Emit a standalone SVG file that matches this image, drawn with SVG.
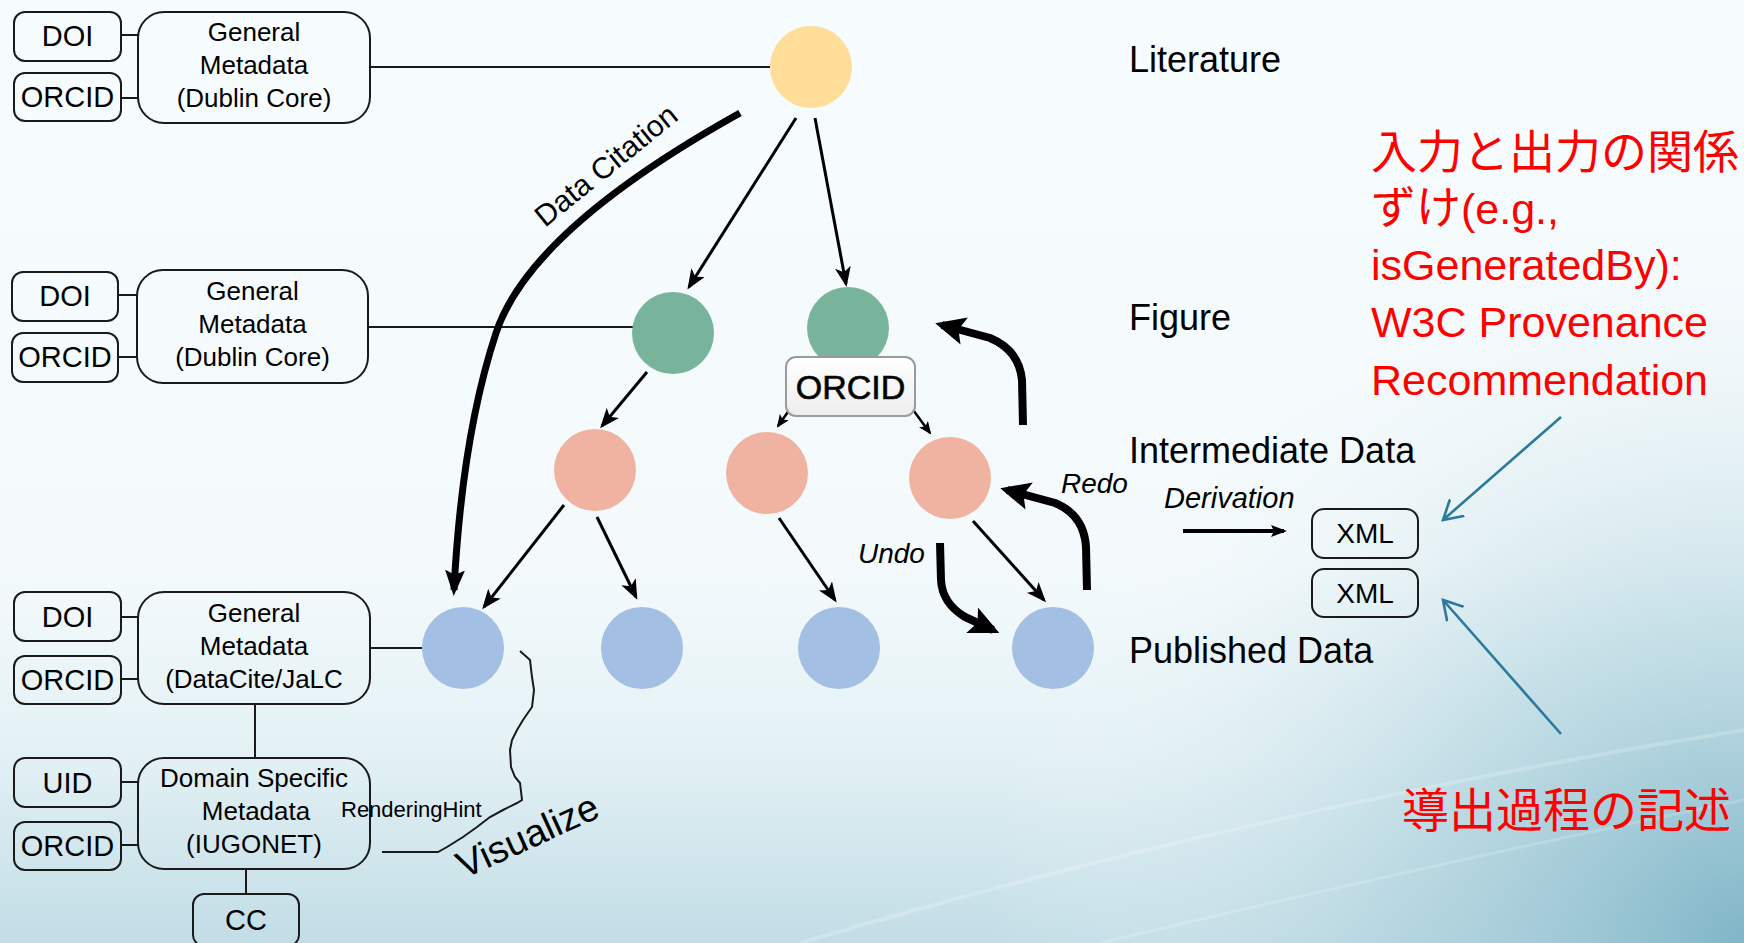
<svg xmlns="http://www.w3.org/2000/svg" width="1744" height="943" viewBox="0 0 1744 943">
<defs>
<linearGradient id="bgGrad" x1="0" y1="0" x2="0" y2="1">
<stop offset="0" stop-color="#f7fcfe"/>
<stop offset="0.6" stop-color="#f4fafc"/>
<stop offset="0.8" stop-color="#e3f1f5"/>
<stop offset="1" stop-color="#c2dde6"/>
</linearGradient>
<radialGradient id="cornerGrad" cx="1744" cy="943" r="760" gradientUnits="userSpaceOnUse">
<stop offset="0" stop-color="#7db4c6" stop-opacity="0.95"/>
<stop offset="0.45" stop-color="#a6cdd9" stop-opacity="0.5"/>
<stop offset="1" stop-color="#ffffff" stop-opacity="0"/>
</radialGradient>
<linearGradient id="badgeGrad" x1="0" y1="0" x2="0" y2="1">
<stop offset="0" stop-color="#ffffff"/>
<stop offset="1" stop-color="#eeeeee"/>
</linearGradient>
<marker id="ah" markerUnits="userSpaceOnUse" markerWidth="20" markerHeight="16" viewBox="0 0 20 16" refX="17" refY="8" orient="auto"><path d="M0,0 L20,8 L0,16 L5,8 z" fill="#000"/></marker>
<marker id="ahs" markerUnits="userSpaceOnUse" markerWidth="13" markerHeight="11" viewBox="0 0 13 11" refX="11" refY="5.5" orient="auto"><path d="M0,0 L13,5.5 L0,11 L3,5.5 z" fill="#000"/></marker>
<marker id="ahCite" markerUnits="userSpaceOnUse" markerWidth="26" markerHeight="20" viewBox="0 0 26 20" refX="20" refY="10" orient="auto"><path d="M0,0 L26,10 L0,20 L5,10 z" fill="#000"/></marker>
<marker id="ahThick" markerUnits="userSpaceOnUse" markerWidth="30" markerHeight="28" viewBox="0 0 30 28" refX="23" refY="14" orient="auto"><path d="M0,0 L30,14 L0,28 L6,14 z" fill="#000"/></marker>
<marker id="ahDer" markerUnits="userSpaceOnUse" markerWidth="16" markerHeight="12" viewBox="0 0 16 12" refX="13" refY="6" orient="auto"><path d="M0,0 L16,6 L0,12 L3,6 z" fill="#000"/></marker>
<marker id="ahOpen" markerUnits="userSpaceOnUse" markerWidth="22" markerHeight="24" viewBox="0 0 22 24" refX="19" refY="12" orient="auto"><path d="M1,1.5 L19,12 L1,22.5" fill="none" stroke="#2b7a9c" stroke-width="2.6" stroke-linecap="round" stroke-linejoin="miter"/></marker>
<style>
.box{fill:none;stroke:#1a1a1a;stroke-width:2}
.ln{fill:none;stroke:#1a1a1a;stroke-width:2}
.arr{fill:none;stroke:#000;stroke-width:3;marker-end:url(#ah)}
.arrs{fill:none;stroke:#000;stroke-width:2.5;marker-end:url(#ahs)}
.thick{fill:none;stroke:#000;stroke-width:8;marker-end:url(#ahThick)}
.blue{fill:none;stroke:#2b7a9c;stroke-width:2.6;marker-end:url(#ahOpen)}
.t{font-family:"Liberation Sans",Arial,sans-serif;fill:#000}
.tm{font-size:26px;text-anchor:middle}
.tid{font-size:29px;text-anchor:middle}
.lvl{font-size:36px}
.it{font-style:italic}
.red{font-family:"Liberation Sans","Noto Sans CJK JP",sans-serif;fill:#ff0000}
.yel{fill:#ffde99}
.grn{fill:#78b49c}
.pnk{fill:#f1b3a1}
.blu{fill:#a3bfe3}
</style>
</defs>

<g id="background">
<rect x="0" y="0" width="1744" height="943" fill="url(#bgGrad)"/>
<rect x="0" y="0" width="1744" height="943" fill="url(#cornerGrad)"/>
<path d="M800,943 Q1250,810 1744,730" fill="none" stroke="#ffffff" stroke-opacity="0.2" stroke-width="4"/>
<path d="M1100,943 Q1450,860 1744,800" fill="none" stroke="#ffffff" stroke-opacity="0.18" stroke-width="3"/>
</g>

<g id="connectors">
<line class="ln" x1="121" y1="35" x2="138" y2="35"/>
<line class="ln" x1="121" y1="98" x2="138" y2="98"/>
<line class="ln" x1="370" y1="67" x2="770" y2="67"/>
<line class="ln" x1="118" y1="295" x2="137" y2="295"/>
<line class="ln" x1="118" y1="357" x2="137" y2="357"/>
<line class="ln" x1="368" y1="327" x2="633" y2="327"/>
<line class="ln" x1="121" y1="617" x2="138" y2="617"/>
<line class="ln" x1="121" y1="679" x2="138" y2="679"/>
<line class="ln" x1="370" y1="648" x2="422" y2="648"/>
<line class="ln" x1="255" y1="704" x2="255" y2="758"/>
<line class="ln" x1="121" y1="782" x2="138" y2="782"/>
<line class="ln" x1="121" y1="845" x2="138" y2="845"/>
<line class="ln" x1="246" y1="869" x2="246" y2="894"/>
<path class="ln" d="M520,651 L530,660 L532,677 L534,690 L532,707 L523,720 L517,730 L512,740 L510,750 L511,767 L515,777 L520,783 L522,800 L517,803 L503,810 L490,817 L477,827 L463,837 L447,847 L438,852 L382,852" stroke-width="1.8"/>
<path d="M740,113 Q530,230 496,333 T454,590" fill="none" stroke="#000" stroke-width="7" marker-end="url(#ahCite)"/>
<line class="arr" x1="796" y1="118" x2="689" y2="287"/>
<line class="arr" x1="815" y1="118" x2="846" y2="284"/>
<line class="arr" x1="647" y1="372" x2="602" y2="426"/>
<line class="arr" x1="564" y1="505" x2="484" y2="607"/>
<line class="arr" x1="597" y1="517" x2="636" y2="597"/>
<line class="arrs" x1="802" y1="392" x2="778" y2="426"/>
<line class="arrs" x1="900" y1="392" x2="930" y2="433"/>
<line class="arr" x1="779" y1="518" x2="835" y2="600"/>
<line class="arr" x1="973" y1="521" x2="1044" y2="600"/>
<path class="thick" d="M940,543 L941,580 Q942,603 965,617 L993,630"/>
<path class="thick" d="M1087,590 L1086,547 Q1084,515 1055,503 L1007,490"/>
<path class="thick" d="M1023,425 L1022,380 Q1019,350 990,338 L942,325"/>
<line x1="1183" y1="531" x2="1284" y2="531" stroke="#000" stroke-width="4" marker-end="url(#ahDer)"/>
<line class="blue" x1="1561" y1="417" x2="1443" y2="520"/>
<line class="blue" x1="1561" y1="734" x2="1443" y2="600"/>
</g>

<g id="meta-literature">
<rect class="box" x="14" y="12" width="107" height="49" rx="11"/>
<text class="t tid" x="67.5" y="46">DOI</text>
<rect class="box" x="14" y="73" width="107" height="48" rx="11"/>
<text class="t tid" x="67.5" y="107">ORCID</text>
<rect class="box" x="138" y="12" width="232" height="111" rx="26"/>
<text class="t tm" x="254" y="41">General</text>
<text class="t tm" x="254" y="74">Metadata</text>
<text class="t tm" x="254" y="107">(Dublin Core)</text>
</g>

<g id="meta-figure">
<rect class="box" x="12" y="272" width="106" height="49" rx="11"/>
<text class="t tid" x="65" y="306">DOI</text>
<rect class="box" x="12" y="333" width="106" height="49" rx="11"/>
<text class="t tid" x="65" y="367">ORCID</text>
<rect class="box" x="137" y="270" width="231" height="113" rx="26"/>
<text class="t tm" x="252.5" y="300">General</text>
<text class="t tm" x="252.5" y="333">Metadata</text>
<text class="t tm" x="252.5" y="366">(Dublin Core)</text>
</g>

<g id="meta-published">
<rect class="box" x="14" y="592" width="107" height="49" rx="11"/>
<text class="t tid" x="67.5" y="627">DOI</text>
<rect class="box" x="14" y="656" width="107" height="48" rx="11"/>
<text class="t tid" x="67.5" y="690">ORCID</text>
<rect class="box" x="138" y="592" width="232" height="112" rx="26"/>
<text class="t tm" x="254" y="622">General</text>
<text class="t tm" x="254" y="655">Metadata</text>
<text class="t tm" x="254" y="688">(DataCite/JaLC</text>
</g>

<g id="meta-domain">
<rect class="box" x="14" y="758" width="107" height="49" rx="11"/>
<text class="t tid" x="67.5" y="793">UID</text>
<rect class="box" x="14" y="822" width="107" height="48" rx="11"/>
<text class="t tid" x="67.5" y="856">ORCID</text>
<rect class="box" x="138" y="758" width="232" height="111" rx="26"/>
<text class="t tm" x="254" y="787">Domain Specific</text>
<text class="t tm" x="256" y="820">Metadata</text>
<text class="t tm" x="254" y="853">(IUGONET)</text>
<rect class="box" x="193" y="894" width="106" height="52" rx="11"/>
<text class="t tid" x="246" y="930">CC</text>
</g>

<g id="node-literature"><circle class="yel" cx="811" cy="67" r="41"/></g>
<g id="node-figure-1"><circle class="grn" cx="673" cy="333" r="41"/></g>
<g id="node-figure-2"><circle class="grn" cx="848" cy="328" r="41"/></g>
<g id="node-inter-1"><circle class="pnk" cx="595" cy="470" r="41"/></g>
<g id="node-inter-2"><circle class="pnk" cx="767" cy="473" r="41"/></g>
<g id="node-inter-3"><circle class="pnk" cx="950" cy="478" r="41"/></g>
<g id="node-pub-1"><circle class="blu" cx="463" cy="648" r="41"/></g>
<g id="node-pub-2"><circle class="blu" cx="642" cy="648" r="41"/></g>
<g id="node-pub-3"><circle class="blu" cx="839" cy="648" r="41"/></g>
<g id="node-pub-4"><circle class="blu" cx="1053" cy="648" r="41"/></g>

<g id="orcid-badge">
<rect x="786" y="357" width="129" height="59" rx="10" fill="url(#badgeGrad)" stroke="#9a9a9a" stroke-width="2"/>
<text class="t" x="850.5" y="399" font-size="34" text-anchor="middle" fill="#111" stroke="#111" stroke-width="0.7">ORCID</text>
</g>

<g id="xml-boxes">
<rect class="box" x="1312" y="509" width="106" height="49" rx="12"/>
<text class="t" x="1365" y="543" font-size="28" text-anchor="middle">XML</text>
<rect class="box" x="1312" y="569" width="106" height="48" rx="12"/>
<text class="t" x="1365" y="603" font-size="28" text-anchor="middle">XML</text>
</g>

<g id="labels">
<text class="t lvl" x="1129" y="72">Literature</text>
<text class="t lvl" x="1129" y="330">Figure</text>
<text class="t lvl" x="1129" y="463">Intermediate Data</text>
<text class="t lvl" x="1129" y="663">Published Data</text>
<text class="t it" x="1061" y="493" font-size="28">Redo</text>
<text class="t it" x="858" y="563" font-size="28">Undo</text>
<text class="t it" x="1164" y="508" font-size="29">Derivation</text>
<text class="t" transform="translate(545,228) rotate(-39)" font-size="30">Data Citation</text>
<text class="t" transform="translate(464,879) rotate(-24.5)" font-size="38">Visualize</text>
<text class="t" x="341" y="817" font-size="22">RenderingHint</text>
</g>

<g id="annotations">
<text class="red" x="1371" y="168" font-size="46">入力と出力の関係</text>
<text class="red" x="1371" y="224" font-size="43"><tspan font-size="45">ずけ</tspan>(e.g.,</text>
<text class="red" x="1371" y="280" font-size="43">isGeneratedBy):</text>
<text class="red" x="1371" y="337" font-size="43">W3C Provenance</text>
<text class="red" x="1371" y="395" font-size="43">Recommendation</text>
<text class="red" x="1402" y="827" font-size="47">導出過程の記述</text>
</g>
</svg>
